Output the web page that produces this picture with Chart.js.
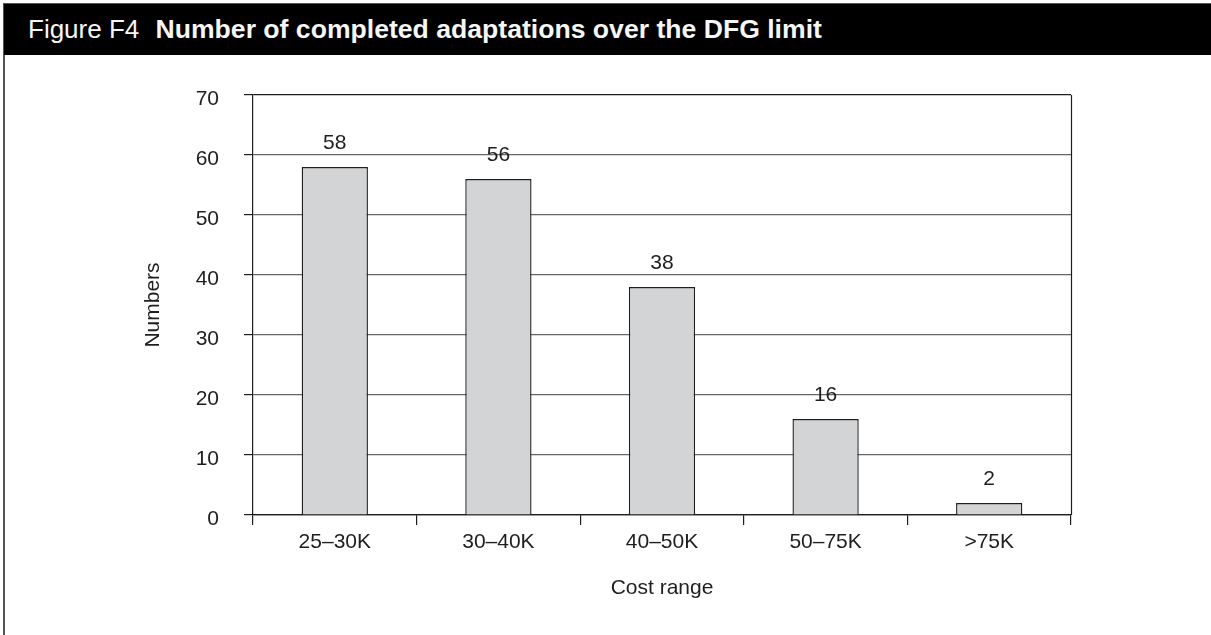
<!DOCTYPE html>
<html>
<head>
<meta charset="utf-8">
<title>Figure F4</title>
<script src="https://cdn.jsdelivr.net/npm/chart.js@4/dist/chart.umd.min.js"></script>
<style>
  html, body { margin: 0; padding: 0; background: #fff; }
  body { width: 1211px; height: 635px; position: relative; overflow: hidden;
         font-family: "Liberation Sans", Arial, Helvetica, sans-serif; }
  #frame { position: absolute; left: 3px; top: 3px; right: 0; bottom: 0;
           border-left: 2px solid #555; border-top: 1px solid #555; }
  #head { position: absolute; left: 4px; top: 4px; right: 0; height: 51px;
          background: #000; color: #f6f6f6; font-size: 26px; line-height: 50px;
          padding-left: 24px; white-space: nowrap; }
  #head b { margin-left: 9px; font-size: 26.6px; }
  #chart { position: absolute; left: 0; top: 0; }
</style>
</head>
<body>
<div id="frame"></div>
<div id="head">Figure F4 <b>Number of completed adaptations over the DFG limit</b></div>
<canvas id="chart" width="1211" height="635"></canvas>
<script>
// cost bands and number of completed adaptations in each
const categories = ['25–30K', '30–40K', '40–50K', '50–75K', '>75K'];
const counts = [58, 56, 38, 16, 2];
const yMin = 0;
const yMax = 70;
const yStep = 10;

const FONT = '"Liberation Sans", Arial, Helvetica, sans-serif';
const SIZE = 21;
const INK = '#1e1e1e';

// value printed above each bar
const valueLabels = {
  id: 'valueLabels',
  afterDatasetsDraw(chart) {
    const ctx = chart.ctx;
    const meta = chart.getDatasetMeta(0);
    ctx.save();
    ctx.font = SIZE + 'px ' + FONT;
    ctx.fillStyle = INK;
    ctx.textAlign = 'center';
    ctx.textBaseline = 'middle';
    meta.data.forEach((bar, i) => {
      ctx.fillText(String(counts[i]), bar.x, bar.y - 24);
    });
    ctx.restore();
  }
};

// closes the plot box on the right
const plotBox = {
  id: 'plotBox',
  beforeDatasetsDraw(chart) {
    const { ctx, chartArea: a } = chart;
    ctx.save();
    ctx.strokeStyle = INK;
    ctx.lineWidth = 1.2;
    ctx.beginPath();
    ctx.moveTo(Math.round(a.right) + 0.5, a.top);
    ctx.lineTo(Math.round(a.right) + 0.5, a.bottom);
    ctx.stroke();
    ctx.restore();
  }
};

new Chart(document.getElementById('chart'), {
  type: 'bar',
  data: {
    labels: categories,
    datasets: [{
      data: counts,
      backgroundColor: '#d3d4d6',
      borderColor: INK,
      borderWidth: 1.4,
      barPercentage: 0.405,
      categoryPercentage: 1.0
    }]
  },
  options: {
    responsive: false,
    animation: false,
    devicePixelRatio: 1,
    layout: { padding: { left: 130, right: 140, top: 95, bottom: 0 } },
    plugins: {
      legend: { display: false },
      tooltip: { enabled: false }
    },
    scales: {
      x: {
        afterFit(scale) { scale.height = 120; },
        grid: { drawOnChartArea: false, drawTicks: true, tickLength: 10, color: INK, lineWidth: 1.2, offset: true },
        border: { color: INK, width: 1.2 },
        ticks: { color: INK, font: { family: FONT, size: SIZE }, padding: 5, maxRotation: 0 },
        title: { display: true, text: 'Cost range', color: INK,
                 font: { family: FONT, size: SIZE }, padding: { top: 0, bottom: 34 } }
      },
      y: {
        min: yMin,
        max: yMax,
        afterFit(scale) { scale.width = 123; },
        grid: {
          color: c => (c.tick && (c.tick.value === yMin || c.tick.value === yMax)) ? INK : '#666',
          lineWidth: 1.2,
          tickLength: 9,
          tickColor: INK
        },
        border: { color: INK, width: 1.2 },
        ticks: { stepSize: yStep, color: INK, font: { family: FONT, size: SIZE }, padding: 25, labelOffset: 4 },
        title: { display: true, text: 'Numbers', color: INK,
                 font: { family: FONT, size: SIZE }, padding: { top: 11, bottom: 0 } }
      }
    }
  },
  plugins: [valueLabels, plotBox]
});
</script>
</body>
</html>
